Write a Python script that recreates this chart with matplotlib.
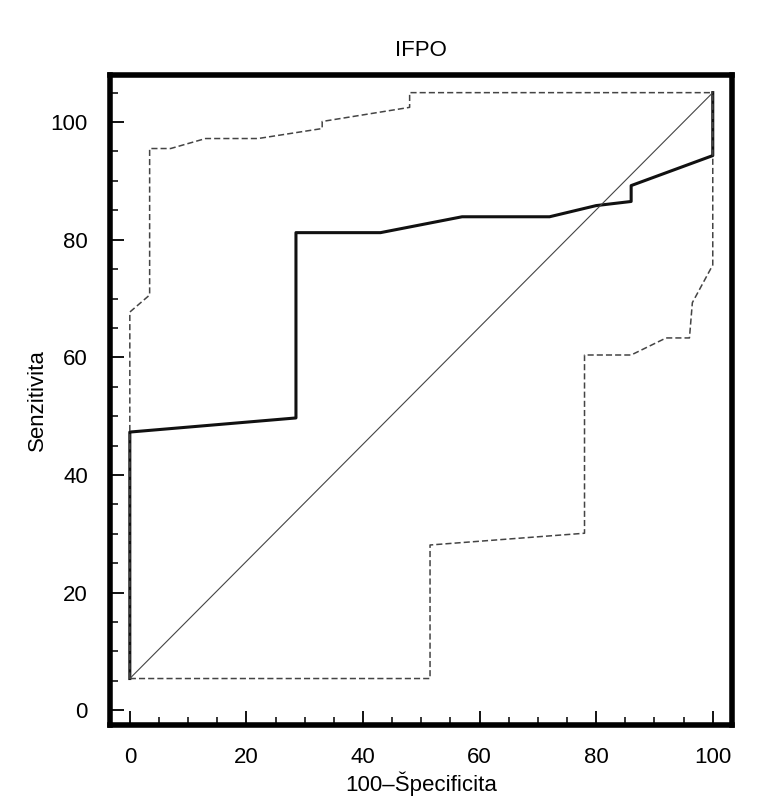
import matplotlib
matplotlib.use("Agg")
import matplotlib.pyplot as plt
from matplotlib.ticker import MultipleLocator

plt.rcParams['font.family'] = ['Liberation Sans', 'DejaVu Sans']

roc_x = [0, 0, 28.5, 28.5, 43, 57, 72, 80, 86, 86, 100, 100]
roc_y = [5.4, 47.3, 49.7, 81.2, 81.2, 83.9, 83.9, 85.8, 86.5, 89.2, 94.3, 105]
up_x = [0, 0, 3.4, 3.4, 7, 13, 22, 33, 33, 48, 48, 100]
up_y = [5.4, 67.7, 70.6, 95.5, 95.5, 97.2, 97.2, 98.9, 100.1, 102.5, 105, 105]
lo_x = [0, 51.5, 51.5, 78, 78, 86, 92, 96, 96.5, 100, 100]
lo_y = [5.4, 5.4, 28.1, 30.1, 60.4, 60.4, 63.3, 63.3, 69.3, 75.7, 105]
diag_x = [0, 100]
diag_y = [5.4, 105]

fig = plt.figure(figsize=(7.6, 8.0), dpi=100)
ax = fig.add_axes([110/760, 1-725/800, 622/760, 650/800])
ax.plot(roc_x, roc_y, color='#111111', lw=2.2)
ax.plot(up_x, up_y, color='#444444', lw=1.1, ls=(0, (4, 2)))
ax.plot(lo_x, lo_y, color='#444444', lw=1.1, ls=(0, (4, 2)))
ax.plot(diag_x, diag_y, color='#444444', lw=0.8)
ax.set_xlim(-3.4, 103.3)
ax.set_ylim(-2.5, 108)
for s in ax.spines.values():
    s.set_linewidth(4)
ax.xaxis.set_major_locator(MultipleLocator(20))
ax.xaxis.set_minor_locator(MultipleLocator(5))
ax.yaxis.set_major_locator(MultipleLocator(20))
ax.yaxis.set_minor_locator(MultipleLocator(5))
ax.tick_params(direction='in', which='major', length=10, width=1.3, labelsize=16, pad=16)
ax.tick_params(direction='in', which='minor', length=6, width=1.1)
ax.set_xlabel('100–Špecificita', fontsize=16, labelpad=2)
ax.set_ylabel('Senzitivita', fontsize=16, labelpad=2)
ax.set_title('IFPO', fontsize=16, pad=14)
fig.savefig('out.png', dpi=100)
